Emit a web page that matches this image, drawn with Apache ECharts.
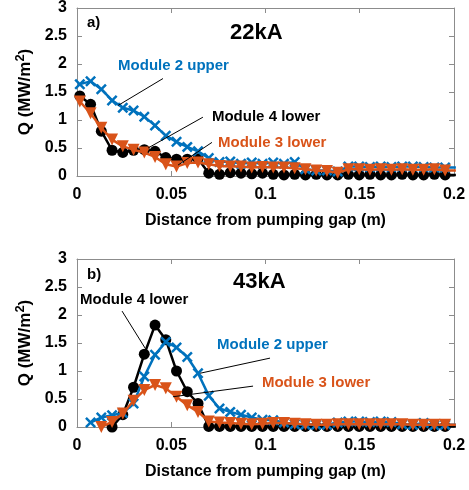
<!DOCTYPE html>
<html><head><meta charset="utf-8">
<script src="https://cdn.jsdelivr.net/npm/echarts@6/dist/echarts.min.js"></script>
<style>html,body{margin:0;padding:0;background:#fff}#c{width:469px;height:490px}</style>
</head><body><div id="c"></div>
<script>
// ---- data ----
const xs = [0.0015,0.0072,0.0129,0.0186,0.0243,0.0300,0.0357,0.0414,0.0471,0.0528,0.0585,0.0642,0.0699,0.0756,0.0813,0.0870,0.0927,0.0984,0.1041,0.1098,0.1155,0.1212,0.1269,0.1326,0.1383,0.1440,0.1497,0.1554,0.1611,0.1668,0.1725,0.1782,0.1839,0.1896,0.1953,0.2010];
// panel a) 22kA
const a_mod4lower = [1.43,1.28,0.80,0.46,0.42,0.46,0.47,0.44,0.33,0.30,0.30,0.31,0.05,0.03,0.06,0.05,0.04,0.05,0.03,0.02,0.03,0.02,0.03,0.02,0.02,0.03,0.02,0.03,0.02,0.02,0.03,0.02,0.02,0.03,0.02,0.02];
const a_mod2upper = [1.64,1.69,1.55,1.35,1.22,1.17,1.06,0.90,0.72,0.61,0.52,0.44,0.32,0.25,0.26,0.22,0.24,0.22,0.24,0.22,0.25,0.12,0.10,0.10,0.08,0.17,0.17,0.16,0.17,0.16,0.17,0.17,0.16,0.15,0.15,0.15];
const a_mod3lower = [1.33,1.12,0.86,0.65,0.53,0.47,0.42,0.34,0.21,0.17,0.23,0.24,0.21,0.18,0.17,0.17,0.15,0.16,0.15,0.15,0.14,0.12,0.10,0.09,0.06,0.12,0.12,0.11,0.12,0.11,0.12,0.11,0.11,0.12,0.10,0.10];
// panel b) 43kA
const b_mod4lower = [null,null,null,0.00,0.22,0.71,1.30,1.82,1.56,1.00,0.63,0.42,0.01,0.01,0.01,0.01,0.01,0.01,0.01,0.01,0.01,0.01,0.01,0.01,0.01,0.01,0.01,0.01,0.01,0.01,0.01,0.01,0.01,0.01,0.01,0.01];
const b_mod2upper = [null,0.08,0.17,0.21,0.25,0.42,0.90,1.29,1.52,1.42,1.25,0.96,0.56,0.33,0.27,0.22,0.17,0.13,0.12,0.08,0.05,0.04,0.04,0.04,0.08,0.10,0.10,0.09,0.10,0.09,0.05,0.04,0.07,0.03,0.04,0.04];
const b_mod3lower = [null,null,0.00,0.09,0.24,0.47,0.66,0.75,0.69,0.54,0.39,0.27,0.10,0.08,0.07,0.06,0.05,0.06,0.07,0.07,0.06,0.05,0.04,0.04,0.05,0.05,0.05,0.05,0.05,0.05,0.05,0.04,0.04,0.04,0.04,0.04];
const xTicks = [0, 0.05, 0.1, 0.15, 0.2];
const yTicks = [0, 0.5, 1, 1.5, 2, 2.5, 3];
const panelTitles = ['22kA', '43kA'];
const panelLetters = ['a)', 'b)'];
const seriesNames = ['Module 4 lower', 'Module 2 upper', 'Module 3 lower'];
// annotations in data coords: [textX, textY, lineFromX, lineFromY, lineToX, lineToY]
const annA = [[0.0716,1.05,0.0668,1.05,0.0377,0.50],[0.0218,1.97,0.0456,1.74,0.0218,1.26],[0.0748,0.60,0.0716,0.60,0.0536,0.195]];
const annB = [[0.0016,2.27,0.0239,2.07,0.0361,1.41],[0.0743,1.46,0.1024,1.23,0.0653,0.96],[0.0981,0.79,0.0934,0.73,0.0509,0.54]];

// ---- style ----
const FONT = '"Liberation Sans",Arial,Helvetica,sans-serif';
const COLORS = ['#000000', '#0072BD', '#D95319'];
const AXC = '#8c8c8c';
const XMARK = 'path://M0,1.6 L1.6,0 L5,3.4 L8.4,0 L10,1.6 L6.6,5 L10,8.4 L8.4,10 L5,6.6 L1.6,10 L0,8.4 L3.4,5 Z';
const TRI = 'path://M0,0 L10,0 L5,9 Z';
const SYMS = ['circle', XMARK, TRI];
const SIZES = [11, 11, 12];

const chart = echarts.init(document.getElementById('c'));
const grids = [
  {left: 77, top: 7, width: 377, height: 169},
  {left: 77, top: 259, width: 377, height: 168}
];
const xAxes = [], yAxes = [];
grids.forEach((g, gi) => {
  const base = {
    gridIndex: gi, type: 'value', min: 0, max: 0.2, interval: 0.05,
    axisLine: {show: true, onZero: false, lineStyle: {color: AXC, width: 1}},
    axisTick: {show: true, inside: true, length: 5, lineStyle: {color: AXC}},
    splitLine: {show: false}
  };
  xAxes.push(Object.assign({}, base, {
    position: 'bottom',
    name: 'Distance from pumping gap (m)', nameLocation: 'middle', nameGap: 37,
    nameTextStyle: {fontFamily: FONT, fontWeight: 'bold', fontSize: 16, color: '#000'},
    axisLabel: {fontFamily: FONT, fontWeight: 'bold', fontSize: 16, color: '#000', margin: 11,
      formatter: v => { const t = xTicks.find(k => Math.abs(k - v) < 1e-9); return t === undefined ? '' : String(t); }}
  }));
  xAxes.push(Object.assign({}, base, {position: 'top', axisLabel: {show: false}}));
  const ybase = {
    gridIndex: gi, type: 'value', min: 0, max: 3, interval: 0.5,
    axisLine: {show: true, onZero: false, lineStyle: {color: AXC, width: 1}},
    axisTick: {show: true, inside: true, length: 5, lineStyle: {color: AXC}},
    splitLine: {show: false}
  };
  yAxes.push(Object.assign({}, ybase, {
    position: 'left',
    name: '{m|Q (MW/m}{s|2}{m|)}', nameLocation: 'middle', nameGap: 31, nameRotate: 90,
    nameTextStyle: {rich: {
      m: {fontFamily: FONT, fontWeight: 'bold', fontSize: 17, color: '#000', lineHeight: 20, verticalAlign: 'bottom'},
      s: {fontFamily: FONT, fontWeight: 'bold', fontSize: 13, color: '#000', lineHeight: 20, verticalAlign: 'top'}
    }},
    axisLabel: {fontFamily: FONT, fontWeight: 'bold', fontSize: 16, color: '#000', margin: 10,
      formatter: v => { const t = yTicks.find(k => Math.abs(k - v) < 1e-9); return t === undefined ? '' : String(t); }}
  }));
  yAxes.push(Object.assign({}, ybase, {position: 'right', axisLabel: {show: false}}));
});

const panels = [[a_mod4lower, a_mod2upper, a_mod3lower], [b_mod4lower, b_mod2upper, b_mod3lower]];
const series = [];
panels.forEach((arrs, gi) => {
  arrs.forEach((arr, si) => {
    series.push({
      type: 'line', name: seriesNames[si], xAxisIndex: gi * 2, yAxisIndex: gi * 2,
      data: xs.map((x, i) => [x, arr[i]]),
      symbol: SYMS[si], symbolSize: SIZES[si], showSymbol: true, clip: true,
      connectNulls: false, animation: false, z: 2 + si,
      lineStyle: {color: COLORS[si], width: 2.5},
      itemStyle: {color: COLORS[si], borderWidth: 0}
    });
  });
});

chart.setOption({
  animation: false,
  grid: grids,
  xAxis: xAxes,
  yAxis: yAxes,
  series: series
});

// annotations
const graphics = [];
const anns = [annA, annB];
anns.forEach((list, gi) => {
  const finder = {xAxisIndex: gi * 2, yAxisIndex: gi * 2};
  list.forEach((a, si) => {
    const t = chart.convertToPixel(finder, [a[0], a[1]]);
    const p1 = chart.convertToPixel(finder, [a[2], a[3]]);
    const p2 = chart.convertToPixel(finder, [a[4], a[5]]);
    graphics.push({type: 'line', shape: {x1: p1[0], y1: p1[1], x2: p2[0], y2: p2[1]},
      style: {stroke: '#000', lineWidth: 1}, z: 10});
    graphics.push({type: 'text', x: t[0], y: t[1], z: 11,
      style: {text: seriesNames[si], fill: COLORS[si], font: 'bold 15px ' + FONT, textAlign: 'left', textVerticalAlign: 'middle'}});
  });
  const tt = chart.convertToPixel(finder, gi === 0 ? [0.0812, 2.56] : [0.0828, 2.59]);
  graphics.push({type: 'text', x: tt[0], y: tt[1], z: 11,
    style: {text: panelTitles[gi], fill: '#000', font: 'bold 22px ' + FONT, textAlign: 'left', textVerticalAlign: 'middle'}});
  const lt = chart.convertToPixel(finder, gi === 0 ? [0.0053, 2.73] : [0.0053, 2.71]);
  graphics.push({type: 'text', x: lt[0], y: lt[1], z: 11,
    style: {text: panelLetters[gi], fill: '#000', font: 'bold 15px ' + FONT, textAlign: 'left', textVerticalAlign: 'middle'}});
});
chart.setOption({graphic: graphics});
</script>
</body></html>
